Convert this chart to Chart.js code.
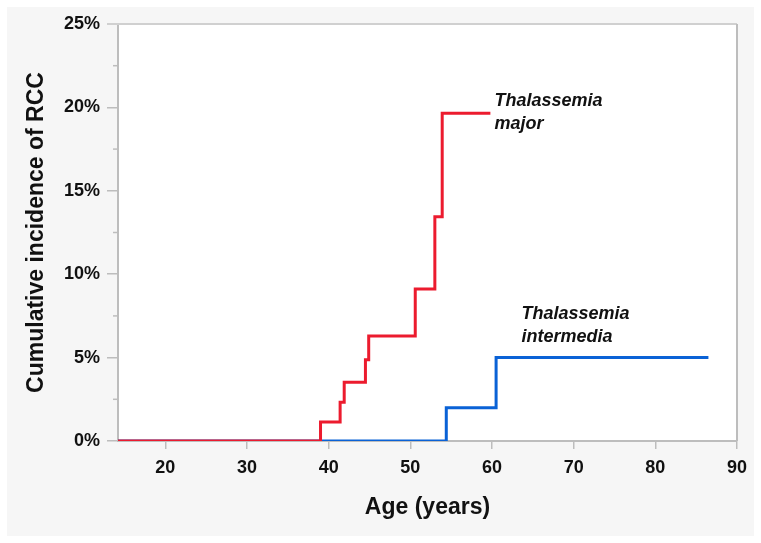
<!DOCTYPE html>
<html>
<head>
<meta charset="utf-8">
<script src="https://cdn.jsdelivr.net/npm/chart.js@4/dist/chart.umd.min.js"></script>
<style>
html,body{margin:0;padding:0;background:#fff;}
#wrap{width:761px;height:543px;}
</style>
</head>
<body>
<div id="wrap"><canvas id="c" width="761" height="543"></canvas></div>
<script>
// ---- data ----
const majorAges   = [14.2, 39.0, 41.4, 41.9, 44.5, 44.9, 50.6, 53.0, 53.9, 59.8];
const majorValues = [0, 1.14, 2.33, 3.52, 4.87, 6.30, 9.12, 13.45, 19.65, 19.65];
const interAges   = [14.2, 54.4, 60.5, 86.5];
const interValues = [0, 2.0, 5.0, 5.0];
const xTicks = [20, 30, 40, 50, 60, 70, 80, 90];
const yTicks = [0, 5, 10, 15, 20, 25];
const yMinorTicks = [2.5, 7.5, 12.5, 17.5, 22.5];
const seriesNames = ['Thalassemia major', 'Thalassemia intermedia'];
const labelLines = [['Thalassemia', 'major'], ['Thalassemia', 'intermedia']];
const xTitle = 'Age (years)';
const yTitle = 'Cumulative incidence of RCC';

const toPts = (xs, ys) => xs.map((x, i) => ({x: x, y: ys[i]}));
const AXIS = '#bdbdbd';
const FONT = "'Liberation Sans', Arial, sans-serif";

const decor = {
  id: 'decor',
  beforeDraw(chart) {
    const {ctx, chartArea: a} = chart;
    ctx.save();
    ctx.fillStyle = '#ffffff';
    ctx.fillRect(0, 0, chart.width, chart.height);
    ctx.fillStyle = '#f6f6f6';
    ctx.fillRect(7, 7, chart.width - 14, chart.height - 14);
    ctx.fillStyle = '#ffffff';
    ctx.fillRect(a.left, a.top, a.right - a.left, a.bottom - a.top);
    ctx.restore();
  },
  afterDraw(chart) {
    const {ctx, chartArea: a, scales} = chart;
    ctx.save();
    // top and right frame
    ctx.strokeStyle = '#d0d0d0';
    ctx.lineWidth = 2;
    ctx.beginPath();
    ctx.moveTo(a.left - 11, a.top);
    ctx.lineTo(a.right, a.top);
    ctx.stroke();
    ctx.strokeStyle = AXIS;
    ctx.beginPath();
    ctx.moveTo(a.right, a.top);
    ctx.lineTo(a.right, a.bottom);
    ctx.stroke();
    // minor y ticks
    ctx.lineWidth = 1.5;
    ctx.strokeStyle = AXIS;
    yMinorTicks.forEach(v => {
      const y = scales.y.getPixelForValue(v);
      ctx.beginPath();
      ctx.moveTo(a.left - 5, y);
      ctx.lineTo(a.left, y);
      ctx.stroke();
    });
    // series labels
    ctx.fillStyle = '#111';
    ctx.font = "italic bold 18px " + FONT;
    ctx.textBaseline = 'alphabetic';
    ctx.textAlign = 'left';
    const pos = [[60.3, 20.08], [63.6, 7.31]];
    labelLines.forEach((lines, i) => {
      const x = scales.x.getPixelForValue(pos[i][0]);
      const y = scales.y.getPixelForValue(pos[i][1]);
      lines.forEach((t, j) => ctx.fillText(t, x, y + j * 23));
    });
    ctx.restore();
  }
};

new Chart(document.getElementById('c'), {
  type: 'line',
  data: {
    datasets: [
      {
        label: seriesNames[0],
        data: toPts(majorAges, majorValues),
        borderColor: '#ec1b2e',
        borderWidth: 3,
        stepped: 'before',
        pointRadius: 0,
        fill: false
      },
      {
        label: seriesNames[1],
        data: toPts(interAges, interValues),
        borderColor: '#0a62d6',
        borderWidth: 3,
        stepped: 'before',
        pointRadius: 0,
        fill: false
      }
    ]
  },
  options: {
    responsive: false,
    animation: false,
    devicePixelRatio: 1,
    layout: {padding: {left: 0, top: 24, right: 24, bottom: 0}},
    plugins: {legend: {display: false}, tooltip: {enabled: false}},
    scales: {
      x: {
        type: 'linear',
        min: 14.2,
        max: 90,
        afterBuildTicks: s => { s.ticks = xTicks.map(v => ({value: v})); },
        afterFit: s => { s.height = 102; },
        grid: {drawOnChartArea: false, drawTicks: true, tickLength: 8, color: AXIS, lineWidth: 1.5},
        border: {display: true, color: AXIS, width: 2},
        ticks: {color: '#111', padding: 8, font: {family: FONT, size: 18, weight: 'bold'}, maxRotation: 0},
        title: {display: true, text: xTitle, color: '#111', padding: {top: 0, bottom: 22},
                font: {family: FONT, size: 23, weight: 'bold'}}
      },
      y: {
        type: 'linear',
        min: 0,
        max: 25,
        afterBuildTicks: s => { s.ticks = yTicks.map(v => ({value: v})); },
        afterFit: s => { s.width = 118; },
        grid: {drawOnChartArea: false, drawTicks: true, tickLength: 11, color: AXIS, lineWidth: 1.5},
        border: {display: true, color: AXIS, width: 2},
        ticks: {color: '#111', padding: 7, font: {family: FONT, size: 18, weight: 'bold'},
                callback: v => v + '%'},
        title: {display: true, text: yTitle, color: '#111', padding: {top: 23, bottom: 0},
                font: {family: FONT, size: 23, weight: 'bold'}}
      }
    }
  },
  plugins: [decor]
});
</script>
</body>
</html>
